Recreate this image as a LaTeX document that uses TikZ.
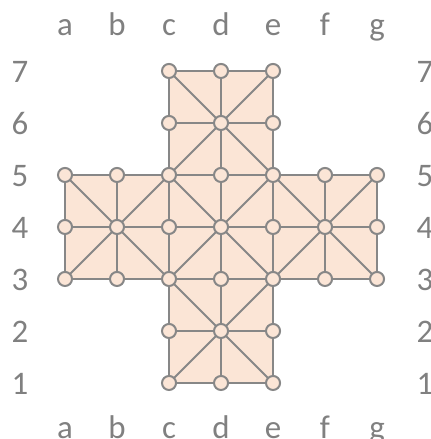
\documentclass[tikz,border=0pt]{standalone}
\usepackage{fontspec}
\setmainfont{Carlito}
\usepackage{xcolor}
\definecolor{boardfill}{HTML}{FBE5D6}
\definecolor{boardline}{HTML}{878787}
\definecolor{labelgray}{HTML}{808080}
\usetikzlibrary{positioning}

\begin{document}
\begin{tikzpicture}[
    grid/.style={boardline, line width=1.1pt},
    peg/.style={circle, draw=boardline, fill=boardfill, line width=1.1pt, minimum size=0.27cm, inner sep=0pt},
    lbl/.style={text=labelgray, font=\fontsize{18}{18}\selectfont, anchor=base, inner sep=0pt}
  ]
  \useasboundingbox (-0.25,-0.077) rectangle (8.019,8.365);

  \foreach \c/\i in {c/3,d/4,e/5}
    \foreach \r in {1,...,7}
      \coordinate (\c\r) at (\i,\r);
  \foreach \c/\i in {a/1,b/2,f/6,g/7}
    \foreach \r in {3,4,5}
      \coordinate (\c\r) at (\i,\r);

  \fill[boardfill] (c1) -- (e1) -- (e3) -- (g3) -- (g5) -- (e5) -- (e7)
    -- (c7) -- (c5) -- (a5) -- (a3) -- (c3) -- cycle;

  \foreach \r in {1,2,6,7}
    \draw[grid] (c\r) -- (e\r);
  \foreach \r in {3,4,5}
    \draw[grid] (a\r) -- (g\r);
  \foreach \c in {c,d,e}
    \draw[grid] (\c1) -- (\c7);
  \foreach \c in {a,b,f,g}
    \draw[grid] (\c3) -- (\c5);
  \draw[grid] (a3) -- (e7);
  \draw[grid] (c3) -- (e5);
  \draw[grid] (c1) -- (g5);
  \draw[grid] (c7) -- (g3);
  \draw[grid] (c5) -- (e3);
  \draw[grid] (a5) -- (e1);

  \foreach \c in {c,d,e}
    \foreach \r in {1,...,7}
      \node[peg] (p\c\r) at (\c\r) {};
  \foreach \c in {a,b,f,g}
    \foreach \r in {3,4,5}
      \node[peg] (p\c\r) at (\c\r) {};

  \foreach \c/\i in {a/1,b/2,c/3,d/4,e/5,f/6,g/7} {
    \node[lbl] (top\c) at (\i,7.69) {\c};
    \node[lbl] (bot\c) at (\i,-0.058) {\c};
  }
  \foreach \r in {1,...,7} {
    \node[lbl] (left\r) at (0.135,\r-0.23) {\r};
    \node[lbl] (right\r) at (7.923,\r-0.23) {\r};
  }
\end{tikzpicture}
\end{document}
